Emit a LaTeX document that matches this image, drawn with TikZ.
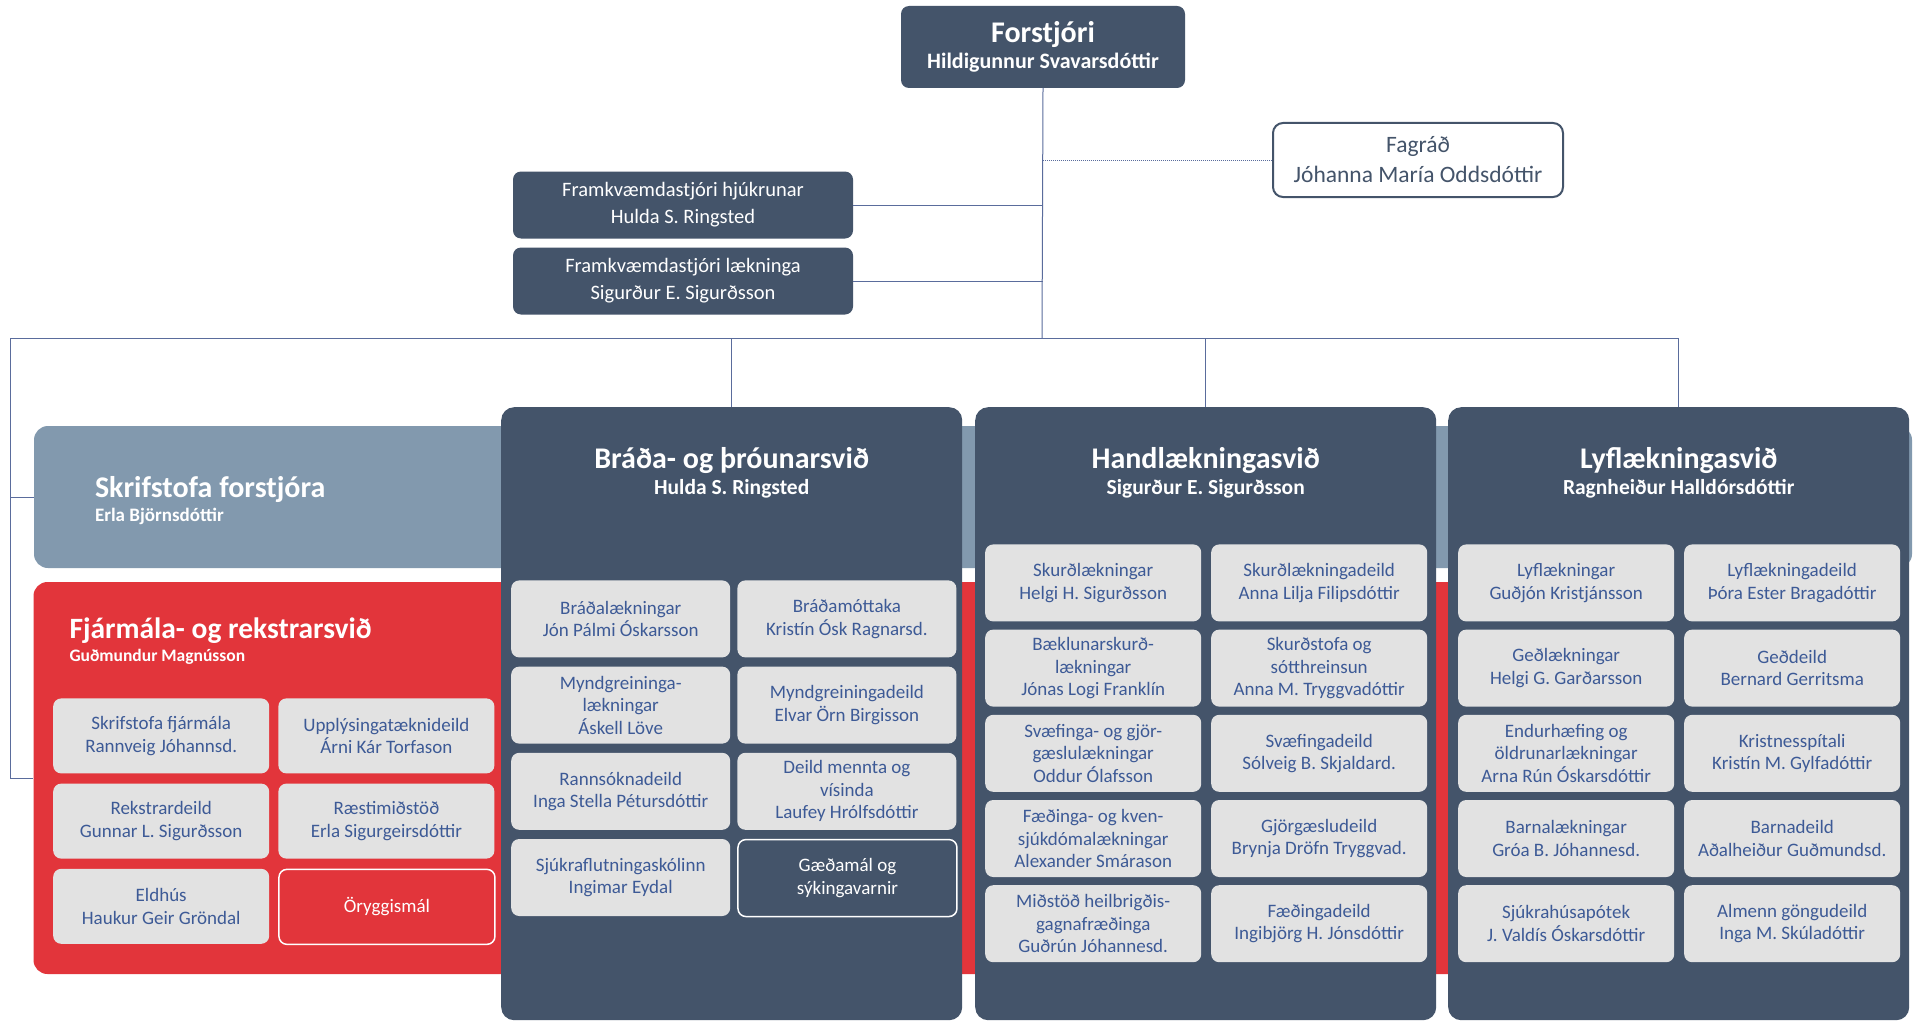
\documentclass[tikz,border=0pt]{standalone}
\usepackage{fontspec}
\setmainfont{Carlito}
\usetikzlibrary{matrix,calc,positioning}

\definecolor{slate}{HTML}{44546A}
\definecolor{steel}{HTML}{8299AE}
\definecolor{fjarred}{HTML}{E2353B}
\definecolor{cellgrey}{HTML}{E2E2E2}
\definecolor{celltext}{HTML}{3D5A96}
\definecolor{linkblue}{HTML}{5A6C9C}

\tikzset{
  link/.style={draw=linkblue,line width=1pt},
  subbox/.style={rounded corners=8pt,fill=cellgrey,text=celltext,align=center,inner sep=1pt,
    minimum height=77pt,font=\fontsize{19}{22.5}\selectfont},
  subgrid/.style={inner sep=0pt,anchor=north west,nodes={subbox}},
  markedbox/.style={draw=white,line width=1.5pt,text=white},
  division/.style={rounded corners=13pt,fill=slate,minimum width=461pt,minimum height=613pt,
    anchor=north west,inner sep=0pt},
  divtitle/.style={text=white,align=center,anchor=north,inner sep=0pt,
    font=\bfseries\fontsize{21.5}{26}\selectfont},
  band/.style={rounded corners=14pt,inner sep=0pt},
  exec/.style={fill=slate,text=white,rounded corners=8pt,minimum width=340pt,minimum height=67pt,
    align=center,font=\fontsize{20.5}{27}\selectfont}
}

\begin{document}
\begin{tikzpicture}[x=1pt,y=-1pt]

    \fill[white] (0,0) rectangle (1916,1022);
    \useasboundingbox (0,0) rectangle (1916,1022);

    % top of the chart
    \node (forstjori) [fill=slate,text=white,rounded corners=8pt,minimum width=284pt,minimum height=82pt,
      align=center,font=\bfseries] at (1043,47)
      {{\fontsize{30}{32}\selectfont Forstjóri}\\[4pt]{\fontsize{22}{24}\selectfont Hildigunnur Svavarsdóttir}};

    \node (fagrad) [draw=slate,line width=2pt,fill=white,text=slate,rounded corners=10pt,minimum width=290pt,
      minimum height=74pt,align=center,font=\fontsize{23.5}{30}\selectfont] at (1418,160)
      {Fagráð\\Jóhanna María Oddsdóttir};

    \node (hjukrun) [exec] at (683,205) {Framkvæmdastjóri hjúkrunar\\Hulda S. Ringsted};
    \node (laekn) [exec] at (683,281) {Framkvæmdastjóri lækninga\\Sigurður E. Sigurðsson};

    % bands behind the divisions
    \node (skrif) [band,fill=steel,minimum width=1878pt,minimum height=142pt] at (973,497) {};
    \node (skrifT) [anchor=west,text=white,align=left,inner sep=0pt,font=\bfseries\fontsize{19}{24}\selectfont]
      at ([xshift=61pt,yshift=-4pt]skrif.west)
      {{\fontsize{30}{32}\selectfont Skrifstofa forstjóra}\\Erla Björnsdóttir};

    \node (fjar) [band,fill=fjarred,minimum width=1875pt,minimum height=392pt] at (971,778) {};
    \node (fjarT) [anchor=north west,text=white,align=left,inner sep=0pt,font=\bfseries\fontsize{17.5}{23}\selectfont]
      at ([xshift=36pt,yshift=-36pt]fjar.north west)
      {{\fontsize{29.5}{32}\selectfont Fjármála- og rekstrarsvið}\\Guðmundur Magnússon};

    \matrix (mF) [subgrid,column sep=9pt,row sep=10pt,nodes={minimum width=216pt,minimum height=75pt}] at (53,698)
    {
      \node (f11) {Skrifstofa fjármála\\Rannveig Jóhannsd.}; & \node (f12) {Upplýsingatæknideild\\Árni Kár Torfason}; \\
      \node (f21) {Rekstrardeild\\Gunnar L. Sigurðsson}; & \node (f22) {Ræstimiðstöð\\Erla Sigurgeirsdóttir}; \\
      \node (f31) {Eldhús\\Haukur Geir Gröndal}; & \node (f32) [markedbox,fill=fjarred] {Öryggismál}; \\
    };

    % divisions
    \node (bradha) [division] at (501,407) {};
    \node (bradhaT) [divtitle] at ([yshift=-40pt]bradha.north)
      {{\fontsize{30}{32}\selectfont Bráða- og þróunarsvið}\\Hulda S. Ringsted};

    \matrix (mB) [subgrid,column sep=7pt,row sep=9pt,nodes={minimum width=219pt}] at (511,580)
    {
      \node (b11) {Bráðalækningar\\Jón Pálmi Óskarsson}; & \node (b12) {Bráðamóttaka\\Kristín Ósk Ragnarsd.}; \\
      \node (b21) {Myndgreininga-\\lækningar\\Áskell Löve}; & \node (b22) {Myndgreiningadeild\\Elvar Örn Birgisson}; \\
      \node (b31) {Rannsóknadeild\\Inga Stella Pétursdóttir}; & \node (b32) {Deild mennta og\\vísinda\\Laufey Hrólfsdóttir}; \\
      \node (b41) {Sjúkraflutningaskólinn\\Ingimar Eydal}; & \node (b42) [markedbox,fill=slate] {Gæðamál og\\sýkingavarnir}; \\
    };

    \node (handl) [division] at (975,407) {};
    \node (handlT) [divtitle] at ([yshift=-40pt]handl.north)
      {{\fontsize{30}{32}\selectfont Handlækningasvið}\\Sigurður E. Sigurðsson};

    \matrix (mH) [subgrid,column sep=10pt,row sep=8pt,nodes={minimum width=216pt}] at (985,544)
    {
      \node (h11) {Skurðlækningar\\Helgi H. Sigurðsson}; & \node (h12) {Skurðlækningadeild\\Anna Lilja Filipsdóttir}; \\
      \node (h21) {Bæklunarskurð-\\lækningar\\Jónas Logi Franklín}; & \node (h22) {Skurðstofa og\\sótthreinsun\\Anna M. Tryggvadóttir}; \\
      \node (h31) {Svæfinga- og gjör-\\gæslulækningar\\Oddur Ólafsson}; & \node (h32) {Svæfingadeild\\Sólveig B. Skjaldard.}; \\
      \node (h41) {Fæðinga- og kven-\\sjúkdómalækningar\\Alexander Smárason}; & \node (h42) {Gjörgæsludeild\\Brynja Dröfn Tryggvad.}; \\
      \node (h51) {Miðstöð heilbrigðis-\\gagnafræðinga\\Guðrún Jóhannesd.}; & \node (h52) {Fæðingadeild\\Ingibjörg H. Jónsdóttir}; \\
    };

    \node (lyf) [division] at (1448,407) {};
    \node (lyfT) [divtitle] at ([yshift=-40pt]lyf.north)
      {{\fontsize{30}{32}\selectfont Lyflækningasvið}\\Ragnheiður Halldórsdóttir};

    \matrix (mL) [subgrid,column sep=10pt,row sep=8pt,nodes={minimum width=216pt}] at (1458,544)
    {
      \node (l11) {Lyflækningar\\Guðjón Kristjánsson}; & \node (l12) {Lyflækningadeild\\Þóra Ester Bragadóttir}; \\
      \node (l21) {Geðlækningar\\Helgi G. Garðarsson}; & \node (l22) {Geðdeild\\Bernard Gerritsma}; \\
      \node (l31) {Endurhæfing og\\öldrunarlækningar\\Arna Rún Óskarsdóttir}; & \node (l32) {Kristnesspítali\\Kristín M. Gylfadóttir}; \\
      \node (l41) {Barnalækningar\\Gróa B. Jóhannesd.}; & \node (l42) {Barnadeild\\Aðalheiður Guðmundsd.}; \\
      \node (l51) {Sjúkrahúsapótek\\J. Valdís Óskarsdóttir}; & \node (l52) {Almenn göngudeild\\Inga M. Skúladóttir}; \\
    };

    % connectors
    \coordinate (bus) at (1042,338);
    \coordinate (busL) at (10,338);

    \draw[link] (forstjori.south) -- (bus);
    \draw[link] (hjukrun.east) -- (hjukrun.east -| forstjori.south);
    \draw[link] (laekn.east) -- (laekn.east -| forstjori.south);
    \draw[link,densely dotted] (fagrad.west) -- (fagrad.west -| forstjori.south);

    \draw[link] (lyf.north) -- (lyf.north |- bus) -- (busL) |- (fjar.west);
    \draw[link] (busL) |- (skrif.west);
    \draw[link] (bradha.north |- bus) -- (bradha.north);
    \draw[link] (handl.north |- bus) -- (handl.north);
  \end{tikzpicture}
\end{document}
